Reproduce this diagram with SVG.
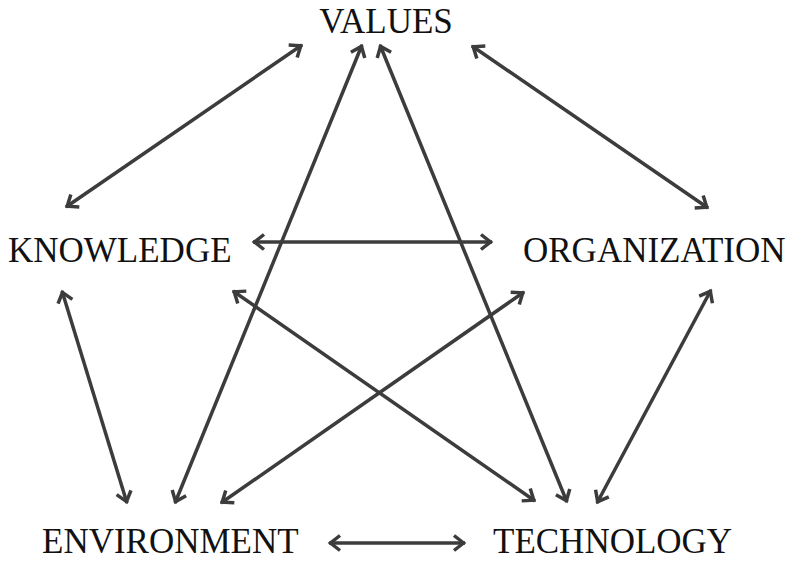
<svg xmlns="http://www.w3.org/2000/svg" width="788" height="561" viewBox="0 0 788 561">
<style>
.lbl{font-family:"Liberation Serif","Times New Roman",serif;font-size:35px;fill:#111}
.c line{stroke:#3c3c3c;stroke-width:3.5;fill:none;marker-start:url(#ah);marker-end:url(#ah)}
</style>
<defs>
<marker id="ah" markerUnits="userSpaceOnUse" viewBox="-16 -10 20 20" refX="0" refY="0" markerWidth="20" markerHeight="20" orient="auto-start-reverse" overflow="visible">
<path d="M-11,-7.5 L-1.5,0 L-11,7.5" fill="none" stroke="#3c3c3c" stroke-width="3.5" stroke-linejoin="miter"/>
</marker>
</defs>
<rect width="788" height="561" fill="#fff"/>
<g id="connectors" class="c">
<line x1="302" y1="45" x2="66" y2="207"/>
<line x1="472" y1="46" x2="708" y2="208"/>
<line x1="253" y1="242" x2="492" y2="242"/>
<line x1="62" y1="291" x2="127" y2="503"/>
<line x1="711" y1="290" x2="597" y2="503"/>
<line x1="362" y1="45" x2="175" y2="503"/>
<line x1="380" y1="45" x2="567" y2="502"/>
<line x1="233" y1="291" x2="535" y2="501"/>
<line x1="524" y1="292" x2="221" y2="503"/>
<line x1="329" y1="543" x2="465" y2="543"/>
</g>
<g id="values"><text class="lbl" x="386" y="33" text-anchor="middle">VALUES</text></g>
<g id="knowledge"><text class="lbl" x="8" y="262">KNOWLEDGE</text></g>
<g id="organization"><text class="lbl" x="523" y="262">ORGANIZATION</text></g>
<g id="environment"><text class="lbl" x="42" y="553">ENVIRONMENT</text></g>
<g id="technology"><text class="lbl" x="493" y="553">TECHNOLOGY</text></g>
</svg>
